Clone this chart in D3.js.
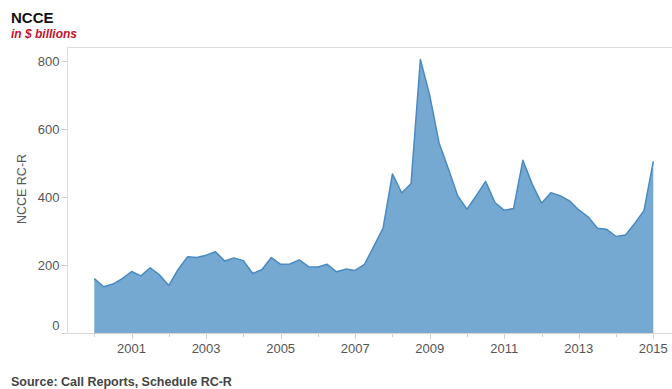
<!DOCTYPE html>
<html>
<head>
<meta charset="utf-8">
<script src="https://cdn.jsdelivr.net/npm/d3@7"></script>
<style>
  html, body { margin: 0; padding: 0; background: #fff; }
  svg { display: block; font-family: "Liberation Sans", Arial, sans-serif; }
</style>
</head>
<body>
<svg id="chart" width="672" height="389"></svg>
<script>
// Quarterly NCCE totals (in $ billions), 2000 Q1 through 2015 Q1
const quarters = d3.range(0, 61).map(i => 2000 + i * 0.25);
const values = [
  160, 136, 144, 160, 181, 168, 192, 171,
  140, 187, 224, 222, 229, 239, 212, 221,
  213, 175, 187, 222, 202, 203, 215, 195,
  194, 202, 180, 188, 184, 202, 255, 309,
  468, 412, 440, 805, 699, 560, 483, 404,
  364, 404, 446, 384, 361, 366, 508, 438,
  382, 413, 404, 389, 362, 342, 308, 305,
  284, 288, 322, 360, 505
];
const yTicks = [0, 200, 400, 600, 800];
const xTickYears = d3.range(2000, 2016);
const xLabelYears = ["2001", "2003", "2005", "2007", "2009", "2011", "2013", "2015"];

const svg = d3.select("#chart");
const plot = { left: 67.5, right: 672, top: 47.5, bottom: 333 };

const x = d3.scaleLinear().domain([2000, 2015]).range([94.3, 653.3]);
const y = d3.scaleLinear().domain([0, 840]).range([plot.bottom, plot.top]);

const data = quarters.map((q, i) => ({ q, v: values[i] }));

// Titles
svg.append("text").attr("x", 11).attr("y", 22.5)
  .attr("font-size", 15).attr("font-weight", "bold").attr("fill", "#111")
  .text("NCCE");
svg.append("text").attr("x", 11).attr("y", 38)
  .attr("font-size", 12).attr("font-weight", "bold").attr("font-style", "italic")
  .attr("fill", "#c4122f")
  .text("in $ billions");

// Plot frame: top and left borders
svg.append("line").attr("x1", plot.left).attr("x2", plot.right)
  .attr("y1", plot.top).attr("y2", plot.top)
  .attr("stroke", "#dcdcdc").attr("stroke-width", 1);
svg.append("line").attr("x1", plot.left).attr("x2", plot.left)
  .attr("y1", plot.top).attr("y2", plot.bottom)
  .attr("stroke", "#dcdcdc").attr("stroke-width", 1);

// Area
const area = d3.area().x(d => x(d.q)).y0(y(0)).y1(d => y(d.v));
const line = d3.line().x(d => x(d.q)).y(d => y(d.v));

svg.append("path").datum(data)
  .attr("d", area)
  .attr("fill", "#75a9d2");
svg.append("path").datum(data)
  .attr("d", line)
  .attr("fill", "none")
  .attr("stroke", "#4a89c2")
  .attr("stroke-width", 1.5)
  .attr("stroke-linejoin", "round");

// Bottom axis line
svg.append("line").attr("x1", plot.left).attr("x2", plot.right)
  .attr("y1", plot.bottom + 0.5).attr("y2", plot.bottom + 0.5)
  .attr("stroke", "#d6d6d6").attr("stroke-width", 1.2);

// Y axis ticks and labels
const yAxis = svg.append("g");
yAxis.selectAll("line").data(yTicks).enter().append("line")
  .attr("x1", plot.left - 6).attr("x2", plot.left)
  .attr("y1", d => Math.round(y(d)) + 0.5).attr("y2", d => Math.round(y(d)) + 0.5)
  .attr("stroke", "#d0d0d0");
yAxis.selectAll("text").data(yTicks).enter().append("text")
  .attr("x", plot.left - 8)
  .attr("y", d => y(d) - (d === 0 ? 8 : 0))
  .attr("dy", "0.35em")
  .attr("text-anchor", "end")
  .attr("font-size", 13).attr("fill", "#555")
  .text(d => d);

// X axis ticks and labels
const xAxis = svg.append("g");
xAxis.selectAll("line").data(xTickYears).enter().append("line")
  .attr("x1", d => Math.round(x(d)) + 0.5).attr("x2", d => Math.round(x(d)) + 0.5)
  .attr("y1", plot.bottom + 1)
  .attr("y2", d => plot.bottom + (d % 2 === 1 ? 6 : 4))
  .attr("stroke", "#d0d0d0");
xAxis.selectAll("text").data(xLabelYears).enter().append("text")
  .attr("x", d => x(+d))
  .attr("y", 353)
  .attr("text-anchor", "middle")
  .attr("font-size", 13).attr("fill", "#555")
  .text(d => d);

// Y axis title
svg.append("text")
  .attr("transform", "translate(26,189) rotate(-90)")
  .attr("text-anchor", "middle")
  .attr("font-size", 12.5).attr("fill", "#555")
  .text("NCCE RC-R");

// Source note
svg.append("text").attr("x", 11).attr("y", 385.5)
  .attr("font-size", 12.5).attr("font-weight", "bold").attr("fill", "#444")
  .text("Source: Call Reports, Schedule RC-R");
</script>
</body>
</html>
